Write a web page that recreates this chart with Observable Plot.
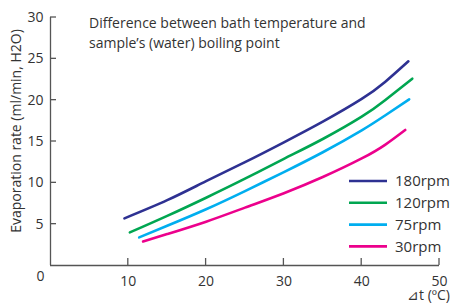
<!DOCTYPE html>
<html><head><meta charset="utf-8">
<script src="https://cdn.jsdelivr.net/npm/d3@7"></script>
<script src="https://cdn.jsdelivr.net/npm/@observablehq/plot@0.6"></script>
<style>
body{margin:0;background:#fff;}
svg{font-family:"Open Sans",sans-serif;}
</style></head><body><div id="chart"></div>
<script>
const seriesNames = ["180rpm","120rpm","75rpm","30rpm"];
const seriesColors = ["#2e3192","#00a651","#00aeef","#ec008c"];
const dt180 = [9.5, 15, 20, 25, 30, 35, 40, 43, 46.0];
const v180  = [5.7, 7.9, 10.2, 12.5, 14.9, 17.4, 20.15, 22.2, 24.7];
const dt120 = [10.2, 15, 20, 25, 30, 35, 40, 43, 46.5];
const v120  = [4.0, 6.0, 8.2, 10.5, 12.9, 15.3, 18.0, 20.0, 22.6];
const dt75  = [11.4, 15, 20, 25, 30, 35, 40, 43, 46.1];
const v75   = [3.4, 4.8, 6.8, 9.0, 11.3, 13.7, 16.35, 18.15, 20.1];
const dt30  = [11.9, 15, 20, 25, 30, 35, 40, 43, 45.6];
const v30   = [2.9, 3.8, 5.3, 7.0, 8.75, 10.7, 12.95, 14.6, 16.4];
const xTicks = [10,20,30,40,50];
const yTicks = [5,10,15,20,25,30];
const titleLines = ["Difference between bath temperature and","sample’s (water) boiling point"];
const yLabel = "Evaporation rate (ml/min, H2O)";
const xLabel = "⊿t (ºC)";

const dts = [dt180, dt120, dt75, dt30];
const vs = [v180, v120, v75, v30];
const rows = [];
seriesNames.forEach((s,i)=>dts[i].forEach((d,j)=>rows.push({series:s, dt:d, v:vs[i][j]})));

const axisColor = "#555";
const textColor = "#333";
const plot = Plot.plot({
  width: 451, height: 303,
  marginLeft: 50, marginRight: 12, marginTop: 17, marginBottom: 38,
  x: {domain:[0,50]},
  y: {domain:[0,30]},
  color: {domain: seriesNames, range: seriesColors},
  style: {fontFamily: "Open Sans, sans-serif", background: "#fff", overflow: "visible"},
  marks: [
    Plot.axisY({ticks: yTicks, tickSize: 0, tickPadding: 7, fontSize: 14, color: textColor, label: null}),
    Plot.axisX({ticks: xTicks, tickSize: 0, tickPadding: 11, fontSize: 14, color: textColor, label: null}),
    Plot.ruleX([0], {stroke: axisColor, strokeWidth: 1.3}),
    Plot.ruleY([0], {stroke: axisColor, strokeWidth: 1.3}),
    Plot.text(["0"], {x: 0, y: 0, dx: -10, dy: 11, fontSize: 14, fill: textColor, textAnchor: "middle"}),
    Plot.line(rows, {x: "dt", y: "v", z: "series", stroke: "series", strokeWidth: 2.6, curve: "natural"})
  ]
});
document.getElementById("chart").appendChild(plot);

const svg = d3.select(plot);
const sx = plot.scale("x"), sy = plot.scale("y");
const x0 = sx.apply(0), y0 = sy.apply(0);
// inward ticks
const tk = svg.append("g").attr("stroke", axisColor).attr("stroke-width", 1.3);
xTicks.forEach(t=>tk.append("line").attr("x1",sx.apply(t)).attr("x2",sx.apply(t)).attr("y1",y0).attr("y2",y0-7));
yTicks.forEach(t=>tk.append("line").attr("y1",sy.apply(t)).attr("y2",sy.apply(t)).attr("x1",x0).attr("x2",x0+6));
// title
const tg = svg.append("g").attr("fill",textColor).attr("font-size",14).attr("text-anchor","start");
titleLines.forEach((t,i)=>tg.append("text").attr("x",89).attr("y",28+i*20).text(t));
// y label
svg.append("text").attr("transform","translate(21,131) rotate(-90)").attr("text-anchor","middle")
  .attr("font-size",14).attr("fill",textColor).text(yLabel);
// x label
svg.append("text").attr("x",450).attr("y",300).attr("text-anchor","end")
  .attr("font-size",14).attr("fill",textColor).text(xLabel);
// legend
const lg = svg.append("g").attr("text-anchor","start");
seriesNames.forEach((s,i)=>{
  const y = 181 + i*21.8;
  lg.append("line").attr("x1",349).attr("x2",387).attr("y1",y).attr("y2",y)
    .attr("stroke",seriesColors[i]).attr("stroke-width",2.6);
  lg.append("text").attr("x",395).attr("y",y).attr("dy","0.35em").attr("font-size",15)
    .attr("fill",textColor).text(s);
});
</script></body></html>
